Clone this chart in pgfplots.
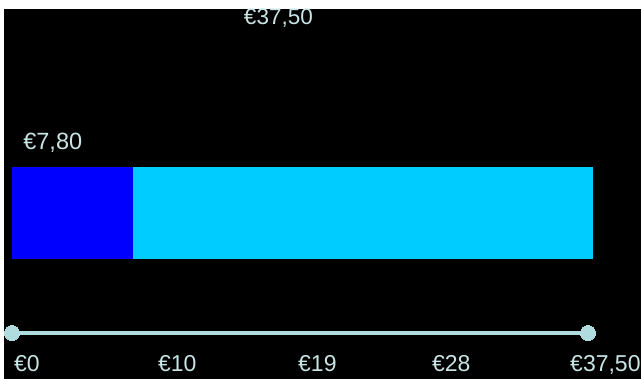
\documentclass[border=0pt]{standalone}
\usepackage{pgfplots}
\pgfplotsset{compat=1.18}
\usepackage{fontspec}
\setmainfont{Liberation Sans}
\definecolor{barcyan}{HTML}{00CCFF}
\definecolor{barblue}{HTML}{0000FF}
\definecolor{txt}{HTML}{C8E4E4}
\definecolor{slider}{HTML}{B0DCE0}
\begin{document}
\begin{tikzpicture}[x=1pt,y=1pt]
\useasboundingbox (0,0) rectangle (641,379);
\fill[white] (0,0) rectangle (641,379);
\fill[black] (4,0) rectangle (641,370);
% bars
\begin{axis}[
  at={(4pt,0pt)}, anchor=south west,
  scale only axis, width=637pt, height=370pt,
  xmin=-0.516, xmax=40.61, ymin=0, ymax=370,
  axis line style={draw=none}, ticks=none,
  clip=false,
]
\addplot[xbar, bar shift=0pt, bar width=92, fill=barcyan, draw=none] coordinates {(37.5,166)};
\addplot[xbar, bar shift=0pt, bar width=92, fill=barblue, draw=none] coordinates {(7.8,166)};
\node[anchor=base, text=txt, font=\fontsize{22.5}{26}\selectfont, inner sep=0pt] at (axis cs:17.2,354) {€37,50};
\node[anchor=base west, text=txt, font=\fontsize{23.5}{27}\selectfont, inner sep=0pt] at (axis cs:0.72,229) {€7,80};
\end{axis}
% slider
\begin{axis}[
  at={(4pt,0pt)}, anchor=south west,
  scale only axis, width=637pt, height=370pt,
  xmin=-0.521, xmax=40.95, ymin=0, ymax=370,
  axis line style={draw=none}, ticks=none,
  clip=false,
]
\addplot[color=slider, line width=4pt, mark=*, mark size=7.5pt, mark options={fill=slider, draw=slider, line width=0pt}] coordinates {(0,46) (37.5,46)};
\foreach \xx/\lab in {0.13/€0, 9.5/€10, 18.62/€19, 27.34/€28, 36.33/{€37,50}} {
  \edef\temp{\noexpand\node[anchor=base west, text=txt, font=\noexpand\fontsize{23}{27}\noexpand\selectfont, inner sep=0pt] at (axis cs:\xx,7) {\lab};}
  \temp
}
\end{axis}
\end{tikzpicture}
\end{document}
